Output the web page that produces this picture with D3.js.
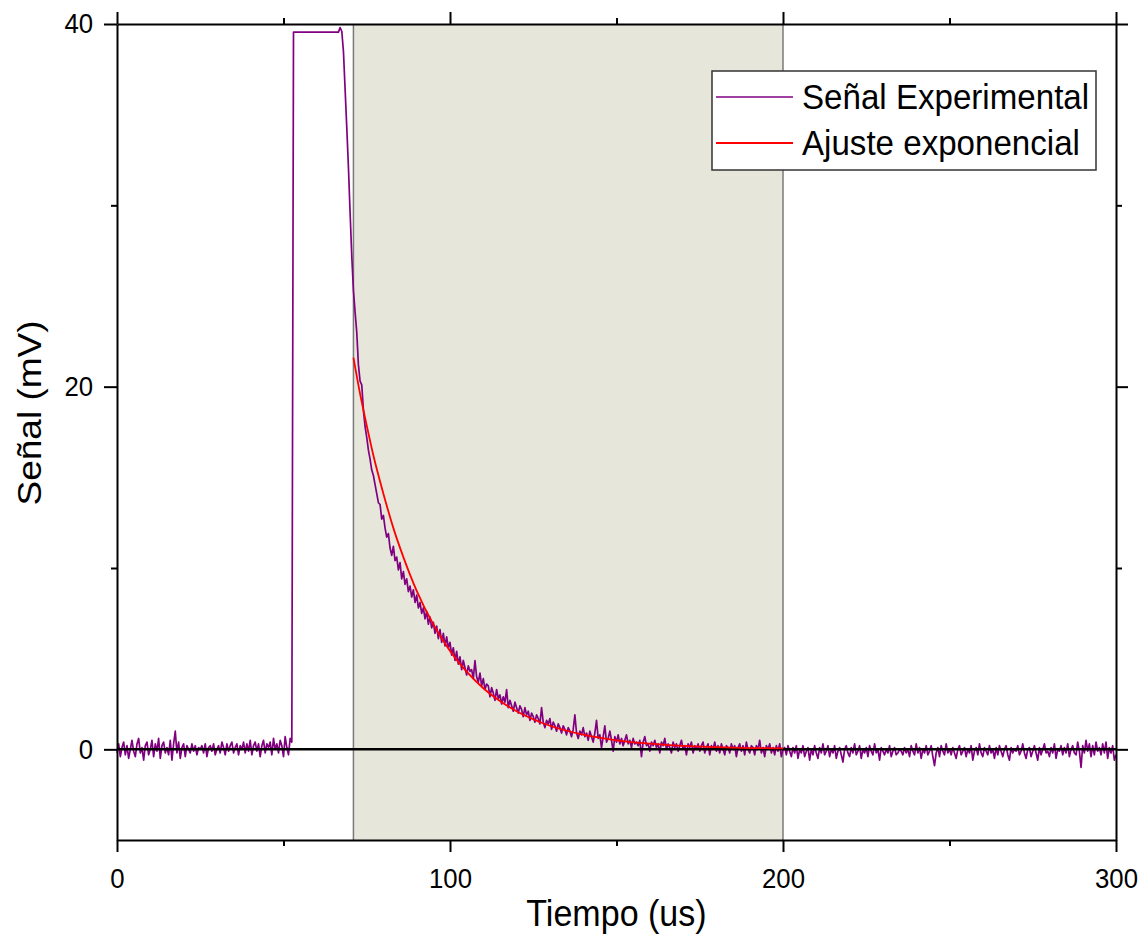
<!DOCTYPE html>
<html>
<head>
<meta charset="utf-8">
<script src="https://cdn.jsdelivr.net/npm/d3@7"></script>
<style>
  body { margin: 0; background: #fff; }
  svg { display: block; font-family: "Liberation Sans", Arial, sans-serif; }
</style>
</head>
<body>
<div id="chart"></div>
<script>
// paso de muestreo del osciloscopio (us)
const sampleStep = 0.5;

// señal antes del pulso, 0 - 52.5 us (mV)
const preTrigger = [
  -0.2, 0.3, -0.4, 0.1, 0.4, -0.3, 0.2, -0.5, 0.0, 0.5, -0.1, -0.4, 0.3, 0.6, -0.2, 0.1, -0.6, 0.2, 0.4, -0.3,
  0.0, 0.5, -0.4, 0.3, -0.1, 0.6, -0.5, 0.2, 0.4, -0.2, 0.1, -0.3, 0.5, -0.6, 0.3, 1.0, -0.2, 0.4, -0.5, 0.1,
  0.3, -0.4, 0.2, 0.0, -0.2, 0.3, -0.1, 0.2, -0.3, 0.1, 0.0, 0.2, -0.2, 0.3, -0.4, 0.1, 0.2, -0.1, 0.3, -0.3,
  0.0, 0.2, -0.2, 0.4, 0.1, -0.3, 0.3, -0.1, 0.2, 0.4, -0.2, 0.1, 0.3, -0.3, 0.2, 0.0, 0.4, -0.2, 0.3, -0.1,
  0.5, -0.3, 0.2, 0.4, -0.1, 0.3, -0.4, 0.2, 0.5, -0.2, 0.3, 0.1, 0.4, -0.3, 0.6, 0.0, 0.3, -0.2, 0.5, 0.2,
  -0.4, 0.7, 0.1, -0.3, 0.6, 0.4
];

// pulso saturado, 53 - 71 us
const pulse = [
  39.55, 39.55, 39.55, 39.55, 39.55, 39.55, 39.55, 39.55, 39.55, 39.55,
  39.55, 39.55, 39.55, 39.55, 39.55, 39.55, 39.55, 39.55, 39.55, 39.55,
  39.55, 39.55, 39.55, 39.55, 39.55, 39.55, 39.55, 39.55,
  39.8, 39.6, 38.5, 36.4, 34.3, 32.1, 29.6, 27.2, 25.3
];

// caida rapida, 71.5 - 96 us
const decayFast = [
  24.1, 23.0, 21.2, 20.3, 20.1, 18.7, 17.8, 17.2, 16.5, 16.0,
  15.4, 15.1, 14.6, 14.1, 13.6, 13.5, 12.7, 12.9, 12.2, 11.7,
  11.9, 11.1, 10.7, 11.2, 10.4, 10.6, 9.9, 10.3, 9.4, 9.8,
  9.1, 9.4, 8.7, 9.0, 8.4, 8.8, 8.1, 8.5, 7.8, 8.1,
  7.5, 7.8, 7.2, 7.6, 6.9, 7.3, 6.7, 7.0, 6.4, 6.8
];

// caida lenta, 96.5 - 200 us
const decaySlow = [
  6.1, 6.6, 5.9, 6.4, 5.7, 6.2, 5.6, 5.9, 5.2, 5.6,
  4.9, 5.4, 4.7, 5.1, 4.4, 4.9, 4.5, 4.1, 4.6, 4.3,
  4.4, 3.9, 4.9, 4.0, 3.7, 4.2, 3.5, 3.9, 3.3, 3.6,
  3.5, 2.9, 3.4, 3.1, 2.7, 3.3, 2.8, 3.0, 2.5, 2.9,
  2.6, 3.3, 2.3, 2.7, 2.4, 2.1, 2.6, 2.3, 2.0, 2.4,
  2.2, 1.8, 2.3, 1.9, 2.1, 1.6, 2.0, 1.8, 1.5, 1.9,
  1.7, 1.4, 2.3, 1.5, 1.2, 1.6, 1.4, 1.7, 1.1, 1.5,
  1.3, 1.0, 1.4, 1.2, 0.9, 1.3, 1.1, 0.8, 1.2, 1.0,
  0.7, 1.1, 1.9, 0.9, 0.6, 1.0, 0.8, 1.2, 0.7, 0.9,
  0.5, 1.0, 0.7, 0.4, 0.9, 1.6, 0.6, 0.8, 0.1, 0.7,
  1.3, 0.4, 0.6, 1.0, 0.5, -0.1, 0.7, 0.4, 0.8, 0.3,
  0.6, 0.2, 0.5, 0.8, 0.3, 0.5, 0.1, 0.6, 0.3, 0.4,
  0.2, 0.5, -0.4, 0.4, 0.7, 0.2, 0.3, -0.1, 0.4, 0.2,
  0.5, 0.1, 0.3, -0.2, 0.4, 0.2, 0.6, 0.0, 0.3, 0.1,
  -0.2, 0.4, 0.1, 0.3, -0.1, 0.2, 0.5, 0.0, 0.2, -0.3,
  0.3, 0.1, 0.4, -0.2, 0.2, 0.0, 0.3, -0.1, 0.2, 0.4,
  -0.2, 0.1, 0.3, -0.3, 0.2, 0.0, 0.4, -0.1, 0.2, -0.2,
  0.3, 0.0, -0.3, 0.2, 0.1, -0.2, 0.3, 0.0, 0.2, -0.4,
  0.1, 0.3, -0.1, 0.2, -0.3, 0.4, 0.0, -0.2, 0.2, 0.1,
  -0.3, 0.2, 0.0, 0.5, -0.2, 0.1, -0.4, 0.2, 0.0, 0.3,
  -0.2, 0.1, -0.3, 0.2, -0.1, 0.3, -0.4, 0.0
];

// cola, 200.5 - 300 us
const tail = [
  0.1, -0.3, 0.2, -0.1, -0.4, 0.1, -0.2, 0.2, -0.5, 0.0,
  -0.2, 0.2, -0.4, -0.1, 0.1, -0.6, 0.0, -0.3, 0.2, -0.2,
  -0.5, 0.1, -0.2, 0.3, -0.3, -0.1, 0.2, -0.4, 0.0, -0.2,
  0.2, -0.5, -0.1, 0.1, -0.3, -0.7, 0.0, 0.2, -0.2, -0.4,
  0.1, -0.2, 0.3, -0.3, -0.1, 0.2, -0.5, 0.0, -0.2, 0.1,
  -0.4, 0.2, -0.1, -0.3, 0.3, -0.2, 0.0, -0.6, 0.1, -0.1,
  -0.3, 0.0, -0.2, 0.2, -0.4, -0.1, 0.1, -0.3, -0.2, 0.0,
  -0.1, -0.3, 0.1, -0.2, 0.0, -0.4, 0.2, -0.1, -0.3, 0.3,
  -0.2, 0.1, -0.5, 0.0, -0.2, 0.2, -0.3, -0.1, 0.2, -0.4,
  -0.9, -0.2, 0.1, -0.4, 0.2, -0.1, -0.3, 0.3, -0.2, 0.0,
  -0.3, 0.1, -0.2, -0.5, 0.0, 0.2, -0.3, -0.1, 0.1, -0.4,
  0.0, -0.2, 0.2, -0.6, -0.1, 0.1, -0.3, 0.3, -0.2, -0.4,
  0.1, -0.1, -0.3, 0.2, -0.2, 0.0, -0.5, 0.1, -0.3, 0.2,
  -0.1, -0.4, 0.0, 0.2, -0.3, -0.6, 0.1, -0.2, 0.0, -0.1,
  0.2, -0.3, -0.1, 0.3, -0.2, -0.5, 0.0, 0.1, -0.4, -0.1,
  0.2, -0.2, -0.6, 0.1, -0.3, 0.0, 0.3, -0.2, -0.1, -0.4,
  0.1, -0.2, 0.3, -0.5, 0.0, -0.1, 0.2, -0.3, 0.1, -0.2,
  0.3, -0.4, 0.0, 0.2, -0.2, -0.3, 0.4, -0.1, -1.0, 0.2,
  -0.2, 0.5, -0.1, 0.3, -0.4, 0.2, -0.3, 0.4, -0.1, 0.1,
  -0.3, 0.3, -0.2, 0.4, -0.5, 0.1, -0.2, 0.2, -0.6, -0.3
];

// ajuste exponencial
const fitTime  = [71, 73, 75, 77, 80, 83, 86, 90, 95, 100, 105, 110, 115, 120, 130, 140, 150, 160, 170, 180, 190, 200];
const fitValue = [21.6, 19.6, 17.85, 16.2, 14.1, 12.2, 10.6, 8.74, 6.89, 5.43, 4.28, 3.37, 2.66, 2.10, 1.30, 0.81, 0.50, 0.31, 0.19, 0.12, 0.07, 0.05];

// ventana sombreada del ajuste (us)
const fitWindow = [71, 200];

const xTicks = [0, 100, 200, 300];
const xMinor = [50, 150, 250];
const yTicks = [0, 20, 40];
const yMinor = [10, 30];

const legendLabels = ["Señal Experimental", "Ajuste exponencial"];
const colors = ["#800080", "#ff0000"];

// --- grafico ---
const W = 1146, H = 945;
const margin = { top: 24, right: 30, bottom: 105, left: 117 };
const squeeze = "scale(0.92,1)"; // el texto original esta algo comprimido en horizontal

const svg = d3.select("#chart").append("svg")
    .attr("width", W)
    .attr("height", H);

const x = d3.scaleLinear().domain([0, 300]).range([margin.left, W - margin.right]);
const y = d3.scaleLinear().domain([-5, 40]).range([H - margin.bottom, margin.top]);

const signal = [].concat(preTrigger, pulse, decayFast, decaySlow, tail)
    .map((v, i) => ({ t: i * sampleStep, v: v }));
const fit = fitTime.map((t, i) => ({ t: t, v: fitValue[i] }));

// zona del ajuste
svg.append("rect")
    .attr("x", x(fitWindow[0]))
    .attr("y", y(40))
    .attr("width", x(fitWindow[1]) - x(fitWindow[0]))
    .attr("height", y(-5) - y(40))
    .attr("fill", "#e6e6db");

svg.selectAll(".win")
    .data(fitWindow)
    .enter()
    .append("line")
    .attr("x1", d => x(d)).attr("x2", d => x(d))
    .attr("y1", y(40)).attr("y2", y(-5))
    .attr("stroke", "#7a7a7a")
    .attr("stroke-width", 1.5);

const line = d3.line().x(d => x(d.t)).y(d => y(d.v));

svg.append("path")
    .datum(signal)
    .attr("d", line)
    .attr("fill", "none")
    .attr("stroke", colors[0])
    .attr("stroke-width", 1.7)
    .attr("stroke-linejoin", "round");

// linea de cero
svg.append("line")
    .attr("x1", x(0)).attr("x2", x(300))
    .attr("y1", y(0)).attr("y2", y(0))
    .attr("stroke", "#000")
    .attr("stroke-width", 2.5);

svg.append("path")
    .datum(fit)
    .attr("d", line.curve(d3.curveMonotoneX))
    .attr("fill", "none")
    .attr("stroke", colors[1])
    .attr("stroke-width", 1.8);

// ejes
function styleAxis(g) {
    g.attr("font-family", null).attr("font-size", null);
    g.selectAll("path, line").attr("stroke", "#000").attr("stroke-width", 2);
    g.selectAll("text")
        .attr("fill", "#000")
        .style("font-size", "28px")
        .attr("transform", squeeze);
}

svg.append("g")
    .attr("transform", `translate(0,${y(-5)})`)
    .call(d3.axisBottom(x).tickValues(xTicks).tickSize(12).tickSizeOuter(0).tickPadding(16))
    .call(styleAxis);
svg.append("g")
    .attr("transform", `translate(0,${y(-5)})`)
    .call(d3.axisBottom(x).tickValues(xMinor).tickSize(6).tickFormat(""))
    .call(g => g.select(".domain").remove())
    .call(styleAxis);

svg.append("g")
    .attr("transform", `translate(0,${y(40)})`)
    .call(d3.axisTop(x).tickValues(xTicks).tickSize(12).tickSizeOuter(0).tickFormat(""))
    .call(styleAxis);
svg.append("g")
    .attr("transform", `translate(0,${y(40)})`)
    .call(d3.axisTop(x).tickValues(xMinor).tickSize(6).tickFormat(""))
    .call(g => g.select(".domain").remove())
    .call(styleAxis);

svg.append("g")
    .attr("transform", `translate(${x(0)},0)`)
    .call(d3.axisLeft(y).tickValues(yTicks).tickSize(13).tickSizeOuter(0).tickPadding(13))
    .call(styleAxis);
svg.append("g")
    .attr("transform", `translate(${x(0)},0)`)
    .call(d3.axisLeft(y).tickValues(yMinor).tickSize(6).tickFormat(""))
    .call(g => g.select(".domain").remove())
    .call(styleAxis);

svg.append("g")
    .attr("transform", `translate(${x(300)},0)`)
    .call(d3.axisRight(y).tickValues(yTicks).tickSize(12).tickSizeOuter(0).tickFormat(""))
    .call(styleAxis);
svg.append("g")
    .attr("transform", `translate(${x(300)},0)`)
    .call(d3.axisRight(y).tickValues(yMinor).tickSize(6).tickFormat(""))
    .call(g => g.select(".domain").remove())
    .call(styleAxis);

// titulos de ejes
svg.append("text")
    .attr("transform", `translate(${(x(0) + x(300)) / 2},926) ${squeeze}`)
    .attr("text-anchor", "middle")
    .style("font-size", "37px")
    .text("Tiempo (us)");

svg.append("text")
    .attr("transform", `translate(41,413) ${squeeze} rotate(-90)`)
    .attr("text-anchor", "middle")
    .style("font-size", "37px")
    .text("Señal (mV)");

// leyenda
const legend = svg.append("g").attr("transform", "translate(712,71)");
legend.append("rect")
    .attr("width", 384)
    .attr("height", 99)
    .attr("fill", "#fff")
    .attr("stroke", "#333")
    .attr("stroke-width", 1.5);

const item = legend.selectAll(".item")
    .data(legendLabels)
    .enter()
    .append("g")
    .attr("transform", (d, i) => `translate(0,${26 + i * 46})`);

item.append("line")
    .attr("x1", 4).attr("x2", 81)
    .attr("stroke", (d, i) => colors[i])
    .attr("stroke-width", (d, i) => i === 0 ? 1.5 : 2.2);

item.append("text")
    .attr("transform", `translate(90,12) ${squeeze}`)
    .style("font-size", "36px")
    .text(d => d);
</script>
</body>
</html>
